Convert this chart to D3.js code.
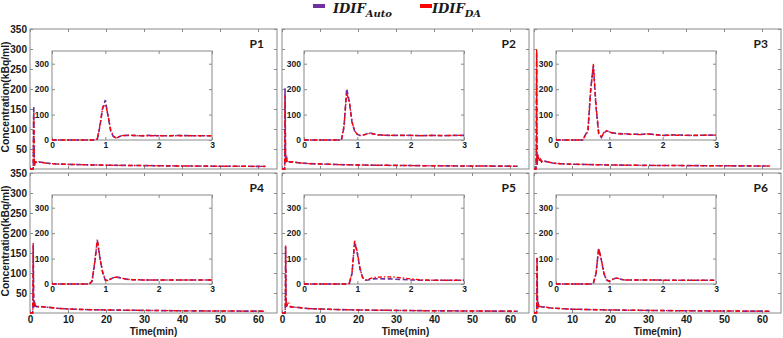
<!DOCTYPE html>
<html>
<head>
<meta charset="utf-8">
<script src="https://cdn.jsdelivr.net/npm/d3@7"></script>
<style>
  body { margin: 0; background: #fff; }
  svg { display: block; font-family: "Liberation Sans", Arial, sans-serif; }
</style>
</head>
<body>
<svg id="chart" width="783" height="338"></svg>
<script>
// sample times (min), fine in the first 3 min, coarse afterwards
const times = [0, 0.5, 0.6, 0.65, 0.7, 0.75, 0.8, 0.85, 0.9, 0.95, 1.0, 1.05, 1.1, 1.15, 1.2, 1.25, 1.3, 1.4, 1.5, 1.6,
               1.7, 1.8, 2.0, 2.2, 2.4, 2.6, 2.8, 3.0, 4, 5, 7, 10, 15, 20, 25, 30, 40, 50, 62];

const panel_names = ["P1", "P2", "P3", "P4", "P5", "P6"];

// IDIF_Auto / IDIF_DA concentration (kBq/ml)
const auto_p1 = [0, 0, 0, 0, 0, 0, 0, 3, 55, 125, 157, 95, 35, 14, 6, 12, 17, 18, 18, 17,
                 17, 18, 17, 17, 18, 17, 17, 17, 15, 14, 12.5, 11.5, 10.5, 9.5, 9, 8.5, 7.5, 7, 6.5];
const da_p1   = [0, 0, 0, 0, 0, 0, 0, 5, 60, 128, 140, 100, 40, 16, 8, 13, 17, 18, 18, 17,
                 17, 17, 17, 17, 17, 17, 17, 17, 15, 14, 12.5, 11.5, 10.5, 9.5, 9, 8.5, 7.5, 7, 6.5];
const auto_p2 = [0, 0, 0, 0, 0, 50, 202, 150, 70, 35, 22, 18, 19, 22, 26, 27, 24, 20, 19, 18,
                 18, 18, 18, 17, 18, 17, 18, 18, 16, 15, 13.5, 12.5, 11, 10, 9.5, 9, 8, 7.5, 7];
const da_p2   = [0, 0, 0, 0, 0, 55, 184, 150, 72, 36, 22, 18, 19, 22, 25, 27, 24, 20, 19, 18,
                 18, 18, 18, 17, 18, 17, 18, 18, 16, 15, 13.5, 12.5, 11, 10, 9.5, 9, 8, 7.5, 7];
const auto_p3 = [0, 0, 40, 200, 290, 130, 25, 10, 28, 36, 32, 28, 27, 26, 25, 24, 25, 22, 23, 22,
                 24, 23, 18, 20, 19, 18, 19, 19, 17, 15, 13, 12, 11, 10, 9.5, 9, 8.5, 8, 7.5];
const da_p3   = [0, 0, 35, 190, 300, 140, 28, 12, 30, 37, 32, 28, 26, 25, 24, 24, 25, 22, 22, 21,
                 24, 22, 18, 19, 18, 18, 19, 19, 17, 15, 13, 12, 11, 10, 9.5, 9, 8.5, 8, 7.5];
const auto_p4 = [0, 0, 0, 0, 0, 10, 80, 172, 100, 45, 15, 14, 20, 25, 27, 26, 23, 19, 17, 17,
                 16, 16, 16, 16, 16, 16, 16, 16, 15, 14, 12, 10, 8.5, 7.5, 7, 6.5, 5.5, 5, 4.5];
const da_p4   = [0, 0, 0, 0, 0, 12, 85, 175, 102, 46, 16, 14, 20, 25, 27, 26, 23, 19, 17, 17,
                 16, 16, 16, 16, 16, 16, 16, 16, 15, 14, 12, 10, 8.5, 7.5, 7, 6.5, 5.5, 5, 4.5];
const auto_p5 = [0, 0, 0, 0, 0, 0, 0, 2, 40, 165, 120, 60, 25, 15, 16, 18, 20, 21, 20, 20,
                 19, 18, 16, 15, 15, 15, 15, 15, 14, 13, 11, 10, 8.5, 7.5, 7, 6.5, 5.5, 5, 4.5];
const da_p5   = [0, 0, 0, 0, 0, 0, 0, 3, 45, 170, 125, 60, 25, 16, 18, 22, 25, 27, 28, 28,
                 27, 25, 20, 16, 15, 15, 15, 15, 14, 13, 11, 10, 8.5, 7.5, 7, 6.5, 5.5, 5, 4.5];
const auto_p6 = [0, 0, 0, 0, 2, 40, 140, 95, 40, 15, 10, 16, 22, 23, 20, 17, 16, 16, 16, 16,
                 16, 16, 15, 15, 15, 15, 15, 15, 13, 12, 11, 9.5, 8.5, 7.5, 7, 6.5, 5.5, 5, 4.5];
const da_p6   = [0, 0, 0, 0, 3, 42, 138, 96, 42, 16, 11, 17, 22, 23, 20, 17, 16, 16, 16, 16,
                 16, 16, 15, 15, 15, 15, 15, 15, 13, 12, 11, 9.5, 8.5, 7.5, 7, 6.5, 5.5, 5, 4.5];

const auto_series = [auto_p1, auto_p2, auto_p3, auto_p4, auto_p5, auto_p6];
const da_series = [da_p1, da_p2, da_p3, da_p4, da_p5, da_p6];

const main_x_ticks = [0, 10, 20, 30, 40, 50, 60];
const main_y_ticks = [50, 100, 150, 200, 250, 300, 350];
const inset_x_ticks = [0, 1, 2, 3];
const inset_y_ticks = [0, 100, 200, 300];

const col_x = [30, 282, 534];
const row_y = [29, 173];
const pw = 247, ph = 140;
const inset_dx = 22, inset_dy = 22, iw = 160, ih = 89;

const axis_color = "#8a8a8a";
const text_color = "#1a1a1a";
const auto_color = "#7030a0";
const da_color = "#ff0000";

const svg = d3.select("#chart");

// draws a boxed axes with inward ticks on all four sides
function draw_box(g, x, y, xticks, yticks, show_x, show_y, font_size, xfmt, yfmt, pad_x) {
  const w = x.range()[1] - x.range()[0];
  const h = y.range()[0] - y.range()[1];
  g.append("rect").attr("width", w).attr("height", h)
    .attr("fill", "#fff");
  const style = (a) => {
    a.select(".domain").remove();
    a.selectAll(".tick line").attr("stroke", axis_color);
    a.selectAll(".tick text")
      .attr("fill", text_color)
      .attr("font-size", font_size)
      .attr("font-weight", "bold");
  };
  g.append("g").attr("transform", "translate(0," + h + ")")
    .call(d3.axisBottom(x).tickValues(xticks).tickSize(-3).tickPadding(pad_x)
      .tickFormat(show_x ? xfmt : ""))
    .call(style);
  g.append("g")
    .call(d3.axisTop(x).tickValues(xticks).tickSize(-3).tickFormat(""))
    .call(style);
  g.append("g")
    .call(d3.axisLeft(y).tickValues(yticks).tickSize(-3).tickPadding(3)
      .tickFormat(show_y ? yfmt : ""))
    .call(style);
  g.append("g").attr("transform", "translate(" + w + ",0)")
    .call(d3.axisRight(y).tickValues(yticks).tickSize(-3).tickFormat(""))
    .call(style);
  g.append("rect").attr("width", w).attr("height", h)
    .attr("fill", "none").attr("stroke", axis_color).attr("stroke-width", 1);
}

function draw_lines(g, x, y, idx, tmax) {
  const pts = (arr) => times.map((t, k) => ({t: t, v: arr[k]})).filter(d => d.t <= tmax);
  const line = d3.line().x(d => x(d.t)).y(d => y(d.v));
  g.append("path").datum(pts(auto_series[idx]))
    .attr("d", line).attr("fill", "none")
    .attr("stroke", auto_color).attr("stroke-width", 1.6)
    .attr("stroke-dasharray", "5,2.5");
  g.append("path").datum(pts(da_series[idx]))
    .attr("d", line).attr("fill", "none")
    .attr("stroke", da_color).attr("stroke-width", 1.4)
    .attr("stroke-dasharray", "4,2,1.5,2");
}

panel_names.forEach((name, i) => {
  const col = i % 3, row = Math.floor(i / 3);
  const px = col_x[col], py = row_y[row];

  const x = d3.scaleLinear().domain([0, 65]).range([0, pw]);
  const y = d3.scaleLinear().domain([0, 350]).range([ph, 0]);

  const g = svg.append("g").attr("transform", "translate(" + px + "," + py + ")");
  draw_box(g, x, y, main_x_ticks, main_y_ticks, row == 1, col == 0, 10,
    d3.format("d"), d3.format("d"), 3);
  draw_lines(g, x, y, i, 65);

  g.append("text")
    .attr("x", pw - 13).attr("y", 19)
    .attr("text-anchor", "end")
    .attr("font-family", "Lato, 'Open Sans', sans-serif")
    .attr("font-weight", "bold").attr("font-size", 12)
    .attr("fill", text_color)
    .text(name);

  // zoomed view of the first 3 minutes
  const xi = d3.scaleLinear().domain([0, 3]).range([0, iw]);
  const yi = d3.scaleLinear().domain([0, 350]).range([ih, 0]);
  const gi = g.append("g").attr("transform", "translate(" + inset_dx + "," + inset_dy + ")");
  draw_box(gi, xi, yi, inset_x_ticks, inset_y_ticks, true, true, 8.5,
    d3.format("d"), d3.format("d"), 2);
  draw_lines(gi, xi, yi, i, 3);

  if (col == 0) {
    svg.append("text")
      .attr("transform", "translate(8.5," + (py + 68) + ") rotate(-90)")
      .attr("text-anchor", "middle")
      .attr("font-weight", "bold").attr("font-size", 10.3)
      .attr("fill", text_color)
      .text("Concentration(kBq/ml)");
  }
  if (row == 1) {
    svg.append("text")
      .attr("x", px + pw / 2).attr("y", 334.5)
      .attr("text-anchor", "middle")
      .attr("font-weight", "bold").attr("font-size", 10)
      .attr("fill", text_color)
      .text("Time(min)");
  }
});

// legend
const legend_items = [
  {sub: "Auto", color: auto_color, x: 313},
  {sub: "DA", color: da_color, x: 420}
];
const lg = svg.append("g");
legend_items.forEach(d => {
  lg.append("rect").attr("x", d.x).attr("y", 4).attr("width", 12).attr("height", 4)
    .attr("fill", d.color);
  const t = lg.append("text")
    .attr("x", d.x + (d.sub == "DA" ? 12 : 20)).attr("y", 13)
    .attr("font-family", "'DejaVu Serif', 'Liberation Serif', serif")
    .attr("font-style", "italic").attr("font-weight", "bold")
    .attr("font-size", 13).attr("fill", text_color);
  t.append("tspan").text("IDIF");
  t.append("tspan").attr("dy", 4).attr("font-size", 10).text(d.sub);
});
</script>
</body>
</html>
